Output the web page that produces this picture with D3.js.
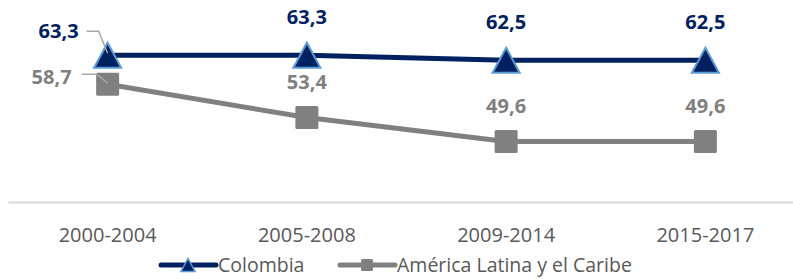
<!DOCTYPE html>
<html lang="es">
<head>
<meta charset="UTF-8">
<title>Colombia vs América Latina y el Caribe</title>
<style>
  body { margin: 0; background: #fff; font-family: "Open Sans", sans-serif; }
  svg { display: block; }
  .axis .tick line { display: none; }
  .axis .tick text { font-size: 20px; fill: #595959; font-family: "Open Sans", sans-serif; }
  .axis path { stroke: #d9d9d9; stroke-width: 2; }
  .lbl { font-weight: bold; font-size: 20px; }
  .legend text { font-size: 19.5px; fill: #595959; }
</style>
</head>
<body>
<svg width="793" height="279"></svg>
<script src="https://d3js.org/d3.v7.min.js"></script>
<script>
const periods = ["2000-2004", "2005-2008", "2009-2014", "2015-2017"];
const colombia = [63.3, 63.3, 62.5, 62.5];
const latam = [58.7, 53.4, 49.6, 49.6];
const seriesNames = ["Colombia", "América Latina y el Caribe"];

const svg = d3.select("svg");

const x = d3.scaleBand().domain(periods).range([8, 805]).padding(0);
const y = d3.scaleLinear().domain([40, 70]).range([202, 13]);
const cx = p => x(p) + x.bandwidth() / 2;

const fmt = v => d3.format(".1f")(v).replace(".", ",");

// eje x
const axisG = svg.append("g")
    .attr("class", "axis")
    .attr("transform", "translate(0,202)")
    .call(d3.axisBottom(x).tickSize(0).tickSizeOuter(0));
axisG.selectAll(".tick text").attr("y", 40).attr("dy", null);

const series = [
  { name: seriesNames[0], values: colombia, color: "#002060", marker: "tri", labelColor: "#002060" },
  { name: seriesNames[1], values: latam, color: "#808080", marker: "sq", labelColor: "#808080" }
];

const line = d3.line().x(d => cx(d.p)).y(d => y(d.v));

function drawMarker(g, s, size) {
  if (s.marker === "tri") {
    const w = size * 1.08, h = size;
    g.append("path")
      .attr("d", `M0,${-h / 2}L${w / 2},${h / 2}L${-w / 2},${h / 2}Z`)
      .attr("fill", s.color)
      .attr("stroke", "#5b9bd5")
      .attr("stroke-width", size > 15 ? 2 : 1.5)
      .attr("stroke-linejoin", "miter");
  } else {
    const a = size * 0.92;
    g.append("rect")
      .attr("x", -a / 2).attr("y", -a / 2)
      .attr("width", a).attr("height", a)
      .attr("rx", 1.5)
      .attr("fill", s.color);
  }
}

// líneas (la gris debajo)
series.slice().reverse().forEach(s => {
  const pts = periods.map((p, i) => ({ p, v: s.values[i] }));
  svg.append("path")
    .datum(pts)
    .attr("d", line)
    .attr("fill", "none")
    .attr("stroke", s.color)
    .attr("stroke-width", 5)
    .attr("stroke-linejoin", "round");
});

// marcadores
series.slice().reverse().forEach(s => {
  periods.forEach((p, i) => {
    const g = svg.append("g").attr("transform", `translate(${cx(p)},${y(s.values[i])})`);
    drawMarker(g, s, 25);
  });
});

// etiquetas de datos
series.forEach((s, si) => {
  periods.forEach((p, i) => {
    const px = cx(p), py = y(s.values[i]);
    const t = svg.append("text")
      .attr("class", "lbl")
      .attr("fill", s.labelColor)
      .text(fmt(s.values[i]));
    if (i === 0) {
      // etiqueta desplazada con línea guía
      if (si === 0) {
        t.attr("x", px - 29).attr("y", py - 17).attr("text-anchor", "end");
        svg.append("polyline")
          .attr("points", [[px - 21, py - 24], [px - 9, py - 24], [px, py - 2]].join(" "))
          .attr("fill", "none").attr("stroke", "#a6a6a6").attr("stroke-width", 1.5);
      } else {
        t.attr("x", px - 36).attr("y", py).attr("text-anchor", "end");
        svg.append("polyline")
          .attr("points", [[px - 26, py - 10], [px - 11, py - 10], [px, py - 1]].join(" "))
          .attr("fill", "none").attr("stroke", "#a6a6a6").attr("stroke-width", 1.5);
      }
    } else {
      t.attr("x", px).attr("y", py - (si === 0 ? 31 : 29)).attr("text-anchor", "middle");
    }
  });
});

// leyenda
const legendX = [188, 367];
series.forEach((s, si) => {
  const g = svg.append("g").attr("class", "legend")
    .attr("transform", `translate(${legendX[si]},265)`);
  g.append("line")
    .attr("x1", -27).attr("x2", 28)
    .attr("stroke", s.color).attr("stroke-width", 5)
    .attr("stroke-linecap", "round");
  drawMarker(g, s, 13);
  g.append("text")
    .attr("x", 30).attr("y", 7)
    .text(s.name);
});
</script>
</body>
</html>
